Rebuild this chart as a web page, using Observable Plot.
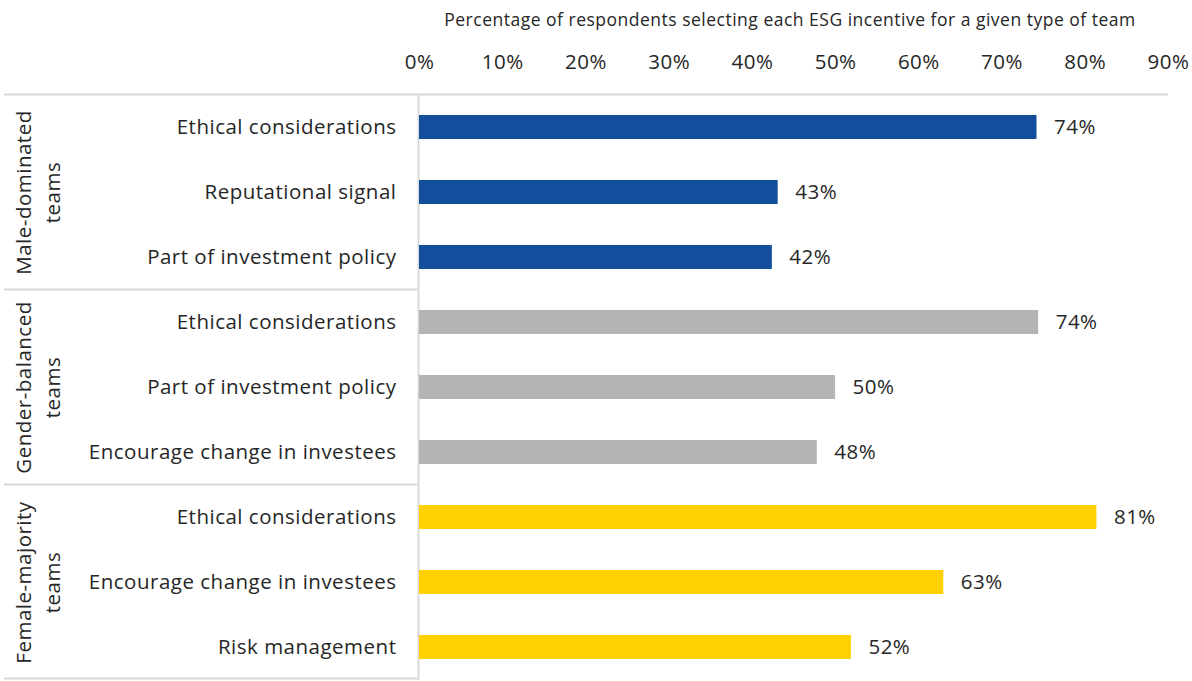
<!DOCTYPE html>
<html>
<head>
<meta charset="utf-8">
<script src="https://cdn.jsdelivr.net/npm/d3@7"></script>
<script src="https://cdn.jsdelivr.net/npm/@observablehq/plot@0.6"></script>
<style>
  html, body { margin: 0; padding: 0; background: #fff; }
  svg { display: block; }
  g[aria-label="axis title"] text { letter-spacing: 0.8px; }
</style>
</head>
<body>
<div id="chart"></div>
<script>
// ---- data ----
const groupNames = ["Male-dominated\nteams", "Gender-balanced\nteams", "Female-majority\nteams"];
const groupColors = ["#134E9C", "#B4B4B4", "#FFD100"];
const rowGroup = [0, 0, 0, 1, 1, 1, 2, 2, 2];
const incentives = [
  "Ethical considerations", "Reputational signal", "Part of investment policy",
  "Ethical considerations", "Part of investment policy", "Encourage change in investees",
  "Ethical considerations", "Encourage change in investees", "Risk management"
];
const values = [74.2, 43.1, 42.4, 74.4, 50.0, 47.8, 81.4, 63.0, 51.9];
const xTicks = [0, 10, 20, 30, 40, 50, 60, 70, 80, 90];
const axisTitle = "Percentage of respondents selecting each ESG incentive for a given type of team";

// ---- table ----
const rows = incentives.map((name, i) => ({
  key: i + "|" + name,
  name,
  group: rowGroup[i],
  value: values[i],
  color: groupColors[rowGroup[i]]
}));
const keys = rows.map(d => d.key);
const groupRows = groupNames.map((g, gi) => {
  const members = rows.filter(r => r.group === gi);
  return { label: g, mid: members[Math.floor(members.length / 2)].key, first: members[0].key };
});

const FONT = "'Open Sans', Lato, sans-serif";
const TXT = "#262626";
const FS = 20.5;

const chart = Plot.plot({
  width: 1192,
  height: 681,
  marginLeft: 419,
  marginRight: 24,
  marginTop: 94,
  marginBottom: 1,
  style: { fontFamily: FONT, fontSize: FS + "px", color: TXT, background: "#fff", letterSpacing: "0.5px" },
  x: { domain: [0, 90], axis: "top", ticks: xTicks, tickFormat: d => d + "%", tickSize: 0, tickPadding: 26, label: null },
  y: { domain: keys, paddingInner: 0.63, paddingOuter: 0.315, axis: null },
  color: { type: "identity" },
  marks: [
    Plot.ruleX([0], { stroke: "#D9D9D9", strokeWidth: 2, dx: -1 }),
    Plot.barX(rows, { x: "value", y: "key", fill: "color" }),
    Plot.text(rows, { x: "value", y: "key", text: d => Math.round(d.value) + "%", textAnchor: "start", dx: 17, fill: TXT, fontSize: FS }),
    Plot.text(rows, { y: "key", text: "name", frameAnchor: "left", textAnchor: "end", dx: -23, fill: TXT, fontSize: FS }),
    Plot.text(groupRows, { y: "mid", text: "label", frameAnchor: "left", dx: -383, rotate: -90, textAnchor: "middle", lineAnchor: "middle", lineHeight: 1.4, fill: TXT, fontSize: FS }),
    Plot.text([axisTitle], { frameAnchor: "top", dy: -81, dx: -4, fill: TXT, fontSize: 17.5, ariaLabel: "axis title" })
  ]
});

document.getElementById("chart").appendChild(chart);

// ---- separator lines, positioned via the plot's own scales ----
const svg = chart.tagName.toLowerCase() === "svg" ? chart : chart.querySelector("svg");
const ys = chart.scale("y");
const bw = ys.bandwidth;
const step = ys.step;
const boundary = k => ys.apply(k) + bw / 2 - step / 2;
const xs = chart.scale("x");
const sel = d3.select(svg).append("g").attr("stroke", "#D9D9D9").attr("stroke-width", 2);
const leftEnd = 4;
const axisX = xs.apply(0) - 1;
sel.append("line").attr("x1", leftEnd).attr("x2", xs.apply(90)).attr("y1", boundary(keys[0])).attr("y2", boundary(keys[0]));
groupRows.forEach((g, i) => {
  if (i > 0) {
    const y = boundary(g.first);
    sel.append("line").attr("x1", leftEnd).attr("x2", axisX).attr("y1", y).attr("y2", y);
  }
});
const yb = boundary(keys[keys.length - 1]) + step;
sel.append("line").attr("x1", leftEnd).attr("x2", axisX).attr("y1", yb - 1).attr("y2", yb - 1);
</script>
</body>
</html>
